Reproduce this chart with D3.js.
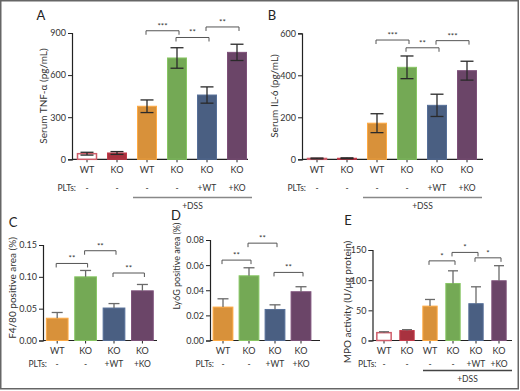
<!DOCTYPE html>
<html><head><meta charset="utf-8">
<script src="https://cdn.jsdelivr.net/npm/d3@7"></script>
<style>body{margin:0;background:#fff}svg{display:block;font-family:Lato,"Open Sans",sans-serif}</style>
</head><body><svg id="c" width="520" height="391"></svg>
<script>
// ---- data ----
const catsSix = ["WT","KO","WT","KO","KO","KO"];
const pltsSix = ["-","-","-","-","+WT","+KO"];
const catsFour = ["WT","KO","KO","KO"];
const pltsFour = ["-","-","+WT","+KO"];
const tnfMean = [40,45,378,722,458,762];
const tnfErr  = [10,10,45,73,58,58];
const il6Mean = [4,5,172,438,257,422];
const il6Err  = [2,2,45,54,53,45];
const f480Mean = [0.035,0.100,0.051,0.078];
const f480Err  = [0.009,0.010,0.007,0.010];
const ly6gMean = [0.0266,0.0515,0.0247,0.0388];
const ly6gErr  = [0.0066,0.0064,0.0037,0.0040];
const mpoMean = [13,16.5,57,94.5,61,99];
const mpoErr  = [1.5,1.5,11,21,28,25];
const ticksTNF = [0,300,600,900];
const ticksIL6 = [0,200,400,600];
const ticksF480 = [0,0.05,0.10,0.15];
const ticksLy6G = [0,0.02,0.04,0.06,0.08];
const ticksMPO = [0,50,100,150];
// significance: [from index, to index, label, bracket value]
const sigA = [[2,3,"***",916],[3,4,"**",868],[4,5,"**",943]];
const sigB = [[2,3,"***",568],[3,4,"**",531],[4,5,"***",565]];
const sigC = [[0,1,"**",0.121],[1,2,"**",0.141],[2,3,"**",0.106]];
const sigD = [[0,1,"**",0.064],[1,2,"**",0.0775],[2,3,"**",0.0542]];
const sigE = [[2,3,"*",132],[3,4,"*",146],[4,5,"*",137]];
const colorsSix = ["open","#a8323f","#d8913a","#74a955","#4a5f82","#6b4568"];
const colorsFour = ["#d8913a","#74a955","#4a5f82","#6b4568"];

const svg = d3.select("#c");
const TXT = "#333";
svg.append("rect").attr("x",0.75).attr("y",0.75).attr("width",517.5).attr("height",388)
  .attr("fill","none").attr("stroke","#666").attr("stroke-width",1.5);

function panel(o){
  const g = svg.append("g");
  const x = d3.scaleBand().domain(d3.range(o.mean.length)).range([o.x0,o.x1])
    .paddingInner(o.pi).paddingOuter(o.po);
  const y = d3.scaleLinear().domain([0,o.ymax]).range([o.yb,o.yt]);
  // y axis
  const ya = d3.axisLeft(y).tickValues(o.ticks).tickSize(4).tickPadding(2).tickFormat(o.fmt);
  const yg = g.append("g").attr("transform",`translate(${o.x0},0)`).call(ya);
  yg.select(".domain").attr("stroke","#222").attr("stroke-width",1.2);
  yg.selectAll(".tick line").attr("stroke","#222");
  yg.selectAll(".tick text").attr("fill",TXT).style("font-size","9px").style("font-family","Lato,sans-serif");
  // x axis
  const xa = d3.axisBottom(x).tickSize(3).tickFormat("");
  const xg = g.append("g").attr("transform",`translate(0,${o.yb})`).call(xa);
  xg.select(".domain").remove();
  xg.selectAll(".tick line").attr("stroke","#222");
  g.append("line").attr("x1",o.x0).attr("x2",o.axEnd).attr("y1",o.yb).attr("y2",o.yb)
    .attr("stroke","#222").attr("stroke-width",1.2);
  // bars
  const idx = d3.range(o.mean.length);
  g.selectAll("rect.bar").data(idx).enter().append("rect")
    .attr("x",i=>x(i)+0.5).attr("width",x.bandwidth()-1)
    .attr("y",i=>y(o.mean[i])).attr("height",i=>y(0)-y(o.mean[i]))
    .attr("fill",i=>o.colors[i]==="open"?"#fff":o.colors[i])
    .attr("stroke",i=>o.colors[i]==="open"?"#cf5d6a":d3.color(o.colors[i]).brighter(0.45))
    .attr("stroke-width",i=>o.colors[i]==="open"?1.5:1);
  // error bars
  const ec = o.both ? "#2a2a2a" : "#6a6a6a";
  idx.forEach(i=>{
    const cx = x(i)+x.bandwidth()/2;
    const top = y(o.mean[i]+o.err[i]);
    const bot = o.both ? y(Math.max(0,o.mean[i]-o.err[i])) : y(o.mean[i]);
    const cw = o.cap;
    g.append("line").attr("x1",cx).attr("x2",cx).attr("y1",top).attr("y2",bot).attr("stroke",ec).attr("stroke-width",1.3);
    g.append("line").attr("x1",cx-cw/2).attr("x2",cx+cw/2).attr("y1",top).attr("y2",top).attr("stroke",ec).attr("stroke-width",1.3);
    if(o.both) g.append("line").attr("x1",cx-cw/2).attr("x2",cx+cw/2).attr("y1",bot).attr("y2",bot).attr("stroke",ec).attr("stroke-width",1.3);
  });
  // significance brackets
  o.sig.forEach(([a,b,lab,v])=>{
    const xa1 = x(a)+x.bandwidth()/2 - 1, xb = x(b)+x.bandwidth()/2 + 2;
    const yy = y(v);
    g.append("path").attr("d",`M${xa1},${yy+4}V${yy}H${xb}V${yy+4}`)
      .attr("fill","none").attr("stroke","#555").attr("stroke-width",1);
    g.append("text").attr("x",(xa1+xb)/2).attr("y",yy-2).attr("text-anchor","middle")
      .attr("fill",TXT).style("font-size","8px").text(lab);
  });
  // category labels
  idx.forEach(i=>{
    const cx = x(i)+x.bandwidth()/2;
    g.append("text").attr("x",cx).attr("y",o.catY).attr("text-anchor","middle").attr("fill",TXT)
      .style("font-size","9px").text(o.cats[i]);
    g.append("text").attr("x",cx).attr("y",o.pltY).attr("text-anchor","middle").attr("fill",TXT)
      .style("font-size","8.5px").text(o.plts[i]);
  });
  g.append("text").attr("x",o.x0+4).attr("y",o.pltY).attr("text-anchor","end").attr("fill",TXT)
    .style("font-size","8.5px").text("PLTs:");
  if(o.dss){
    g.append("line").attr("x1",o.dss[0]).attr("x2",o.dss[1]).attr("y1",o.dss[2]).attr("y2",o.dss[2])
      .attr("stroke",o.dssColor).attr("stroke-width",1.5);
    g.append("text").attr("x",(o.dss[0]+o.dss[1])/2).attr("y",o.dss[2]+11).attr("text-anchor","middle")
      .attr("fill",TXT).style("font-size","8.5px").text("+DSS");
  }
  // title
  g.append("text").attr("transform",`translate(${o.tx},${o.ty}) rotate(-90)`).attr("text-anchor","middle")
    .attr("dominant-baseline","central").attr("fill",TXT).style("font-size",o.tfs+"px").text(o.title);
  g.append("text").attr("x",o.lx).attr("y",o.ly).attr("text-anchor","middle").attr("dominant-baseline","central")
    .attr("fill","#222").style("font-size","13px").text(o.letter);
}

panel({mean:tnfMean,err:tnfErr,ymax:900,ticks:ticksTNF,fmt:d3.format("d"),x0:72,x1:252,axEnd:248,yt:33,yb:159.3,
  pi:1/3,po:1/6,colors:colorsSix,both:true,cap:13,sig:sigA,cats:catsSix,plts:pltsSix,catY:173,pltY:191,
  dss:[133,252,197.5],dssColor:"#888",title:"Serum TNF-α (pg/mL)",tfs:10,tx:43,ty:96,letter:"A",lx:41,ly:15});
panel({mean:il6Mean,err:il6Err,ymax:600,ticks:ticksIL6,fmt:d3.format("d"),x0:302,x1:482,axEnd:483,yt:33.3,yb:159.3,
  pi:1/3,po:1/6,colors:colorsSix,both:true,cap:13,sig:sigB,cats:catsSix,plts:pltsSix,catY:173,pltY:191,
  dss:[363,482,197.5],dssColor:"#888",title:"Serum IL-6 (pg/mL)",tfs:10,tx:274,ty:96,letter:"B",lx:272,ly:15});
panel({mean:f480Mean,err:f480Err,ymax:0.15,ticks:ticksF480,fmt:d3.format(".2f"),x0:43,x1:156.6,axEnd:157,yt:245,yb:340.5,
  pi:0.2,po:0.1,colors:colorsFour,both:false,cap:11,sig:sigC,cats:catsFour,plts:pltsFour,catY:353.5,pltY:366.5,
  dss:null,title:"F4/80 positive area (%)",tfs:10,tx:12,ty:288,letter:"C",lx:13,ly:222});
panel({mean:ly6gMean,err:ly6gErr,ymax:0.08,ticks:ticksLy6G,fmt:d3.format(".2f"),x0:210,x1:314,axEnd:320,yt:240,yb:340.5,
  pi:0.2,po:0.1,colors:colorsFour,both:false,cap:11,sig:sigD,cats:catsFour,plts:pltsFour,catY:353.5,pltY:366.5,
  dss:null,title:"Ly6G positive area (%)",tfs:9,tx:176,ty:266,letter:"D",lx:176,ly:215});
panel({mean:mpoMean,err:mpoErr,ymax:150,ticks:ticksMPO,fmt:d3.format("d"),x0:372.5,x1:510.5,axEnd:512,yt:250,yb:340.5,
  pi:1/3,po:1/6,colors:colorsSix,both:false,cap:10,sig:sigE,cats:catsSix,plts:pltsSix,catY:353.5,pltY:366.5,
  dss:[423,512,370.5],dssColor:"#444",title:"MPO activity (U/μg protein)",tfs:10,tx:347,ty:302,letter:"E",lx:348,ly:220});
</script></body></html>
